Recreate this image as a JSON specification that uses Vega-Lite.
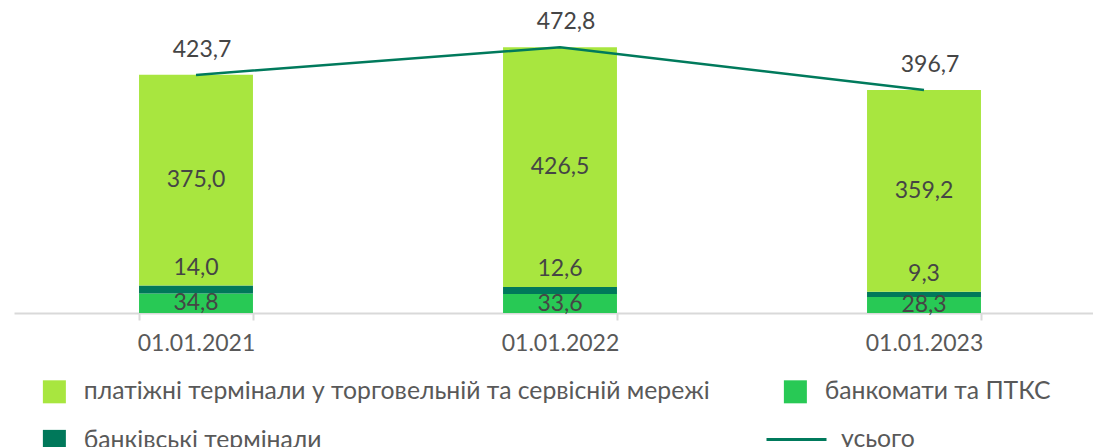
{
  "$schema": "https://vega.github.io/schema/vega-lite/v6.json",
  "width": 1092,
  "height": 281,
  "autosize": {"type": "none"},
  "padding": {"left": 14, "top": 32, "right": 0, "bottom": 134},
  "background": "white",
  "config": {
    "view": {"stroke": null},
    "font": "Lato",
    "locale": {"number": {"decimal": ",", "thousands": " ", "grouping": [3], "currency": ["", ""]}}
  },
  "data": {
    "values": [
      {"date": "01.01.2021", "series": "банкомати та ПТКС", "value": 34.8},
      {"date": "01.01.2021", "series": "банківські термінали", "value": 14.0},
      {"date": "01.01.2021", "series": "платіжні термінали у торговельній та сервісній мережі", "value": 375.0},
      {"date": "01.01.2021", "series": "усього", "value": 423.7},
      {"date": "01.01.2022", "series": "банкомати та ПТКС", "value": 33.6},
      {"date": "01.01.2022", "series": "банківські термінали", "value": 12.6},
      {"date": "01.01.2022", "series": "платіжні термінали у торговельній та сервісній мережі", "value": 426.5},
      {"date": "01.01.2022", "series": "усього", "value": 472.8},
      {"date": "01.01.2023", "series": "банкомати та ПТКС", "value": 28.3},
      {"date": "01.01.2023", "series": "банківські термінали", "value": 9.3},
      {"date": "01.01.2023", "series": "платіжні термінали у торговельній та сервісній мережі", "value": 359.2},
      {"date": "01.01.2023", "series": "усього", "value": 396.7}
    ]
  },
  "encoding": {
    "x": {
      "field": "date",
      "type": "nominal",
      "scale": {"paddingInner": 0.687, "paddingOuter": 0.3435},
      "axis": {
        "title": null,
        "labelAngle": 0,
        "labelFont": "Lato",
        "labelFontSize": 23,
        "labelColor": "#595959",
        "labelPadding": 12,
        "domainColor": "#d9d9d9",
        "domainWidth": 2,
        "tickColor": "#d9d9d9",
        "tickWidth": 2,
        "tickSize": 7,
        "tickBand": "extent",
        "grid": false
      }
    }
  },
  "layer": [
    {
      "transform": [{"filter": "datum.series !== 'усього'"}],
      "mark": {"type": "bar"},
      "encoding": {
        "y": {"field": "value", "type": "quantitative", "stack": "zero", "scale": {"domain": [0, 500], "nice": false}, "axis": null},
        "color": {
          "field": "series",
          "type": "nominal",
          "scale": {
            "domain": ["платіжні термінали у торговельній та сервісній мережі", "банкомати та ПТКС", "банківські термінали"],
            "range": ["#a8e63f", "#28c955", "#00785a"]
          },
          "legend": {
            "orient": "none",
            "legendX": 28,
            "legendY": 347,
            "title": null,
            "columns": 2,
            "direction": "horizontal",
            "symbolType": "square",
            "symbolSize": 529,
            "symbolStrokeWidth": 0,
            "symbolOpacity": 1,
            "labelFont": "Lato",
            "labelFontSize": 24.75,
            "labelColor": "#595959",
            "labelOffset": 17,
            "labelLimit": 0,
            "columnPadding": 73,
            "rowPadding": 24,
            "padding": 0
          }
        },
        "order": {"field": "series", "sort": "ascending"}
      }
    },
    {
      "transform": [{"filter": "datum.series !== 'усього'"}],
      "mark": {"type": "text", "fontSize": 23, "color": "#454545", "baseline": "middle", "font": "Lato"},
      "encoding": {
        "y": {"field": "value", "type": "quantitative", "stack": "zero", "bandPosition": 0.5, "scale": {"domain": [0, 500], "nice": false}},
        "detail": {"field": "series"},
        "order": {"field": "series", "sort": "ascending"},
        "text": {"field": "value", "type": "quantitative", "format": ".1f"},
        "opacity": {"condition": {"test": "datum.series === 'банківські термінали'", "value": 0}, "value": 1}
      }
    },
    {
      "transform": [{"filter": "datum.series !== 'усього'"}],
      "mark": {"type": "text", "fontSize": 23, "color": "#454545", "baseline": "middle", "dy": -18, "font": "Lato"},
      "encoding": {
        "y": {"field": "value", "type": "quantitative", "stack": "zero", "bandPosition": 1, "scale": {"domain": [0, 500], "nice": false}},
        "detail": {"field": "series"},
        "order": {"field": "series", "sort": "ascending"},
        "text": {"field": "value", "type": "quantitative", "format": ".1f"},
        "opacity": {"condition": {"test": "datum.series === 'банківські термінали'", "value": 1}, "value": 0}
      }
    },
    {
      "transform": [{"filter": "datum.series === 'усього'"}],
      "mark": {"type": "line", "strokeWidth": 2.5},
      "encoding": {
        "y": {"field": "value", "type": "quantitative", "scale": {"domain": [0, 500], "nice": false}},
        "stroke": {
          "field": "series",
          "type": "nominal",
          "scale": {"range": ["#007a5c"]},
          "legend": {
            "orient": "none",
            "legendX": 751,
            "legendY": 376,
            "title": null,
            "symbolType": "stroke",
            "symbolSize": 3600,
            "symbolStrokeWidth": 3,
            "labelFont": "Lato",
            "labelFontSize": 24.75,
            "labelColor": "#595959",
            "labelOffset": 13,
            "padding": 0
          }
        }
      }
    },
    {
      "transform": [{"filter": "datum.series === 'усього'"}],
      "mark": {"type": "text", "fontSize": 23, "color": "#454545", "baseline": "middle", "dy": -25, "dx": 6, "font": "Lato"},
      "encoding": {
        "y": {"field": "value", "type": "quantitative", "scale": {"domain": [0, 500], "nice": false}},
        "text": {"field": "value", "type": "quantitative", "format": ".1f"}
      }
    }
  ]
}
